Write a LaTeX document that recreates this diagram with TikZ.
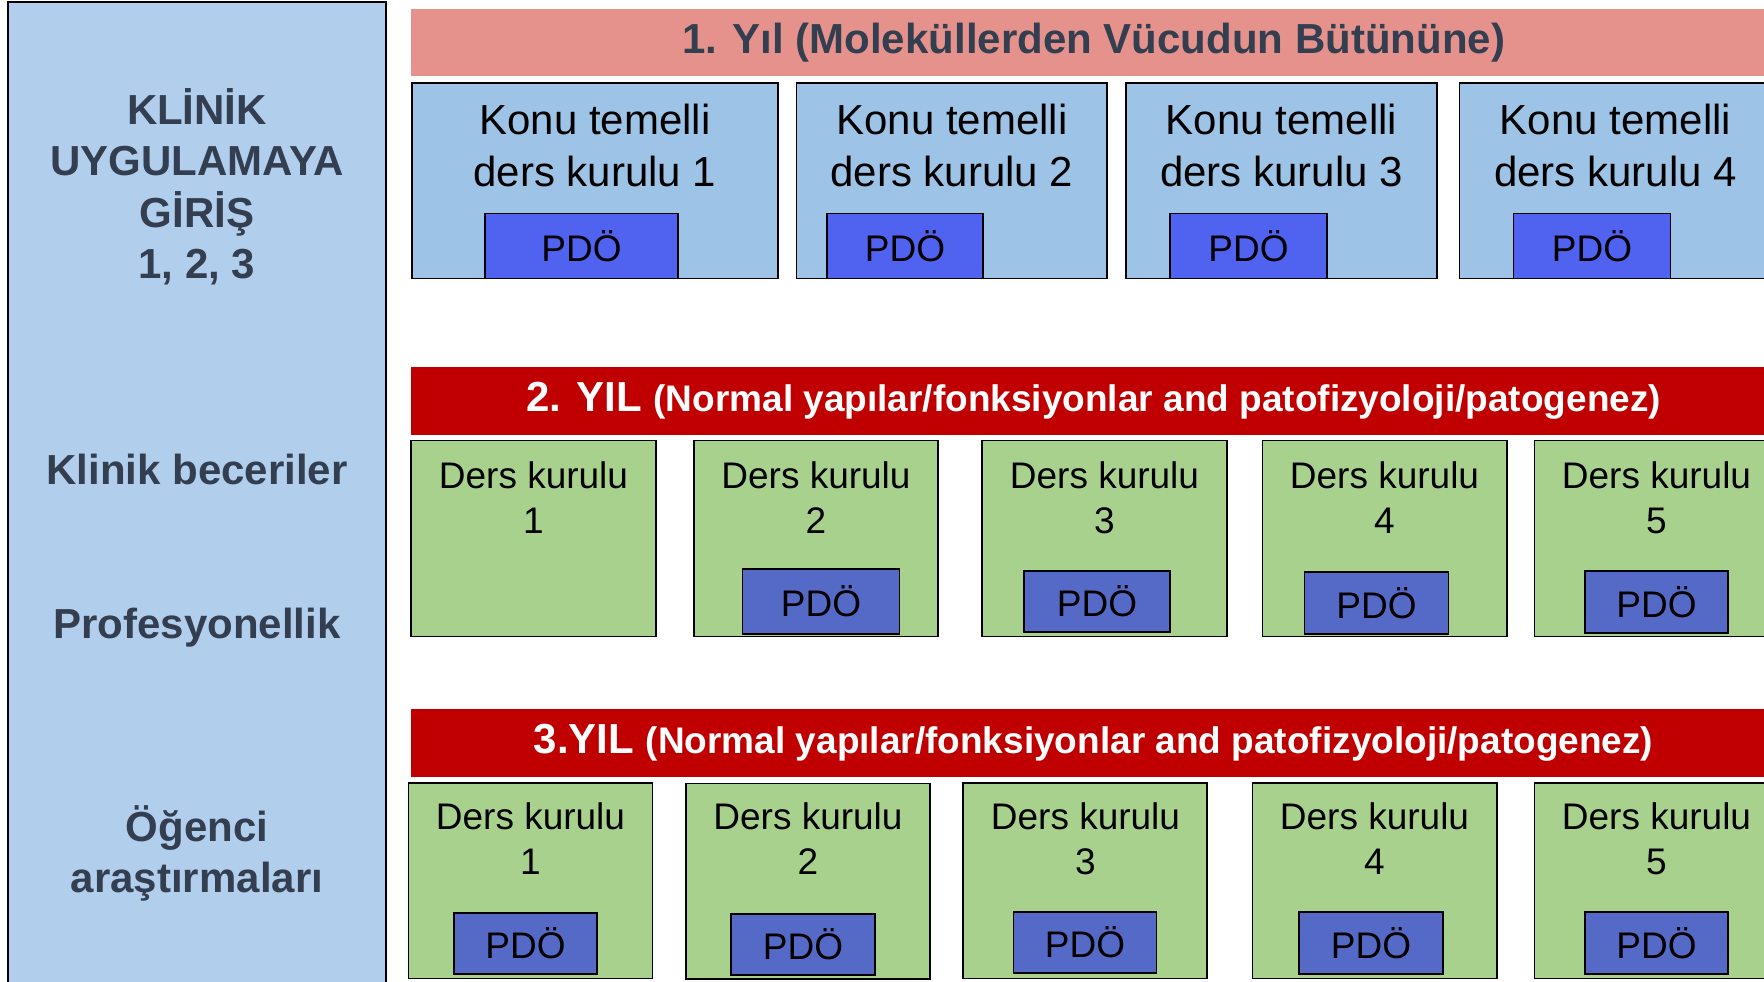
\documentclass[tikz,border=0pt]{standalone}
\usepackage{fontspec}
\setmainfont{Liberation Sans}
\definecolor{panelblue}{HTML}{B1CFEC}
\definecolor{konublue}{HTML}{9DC3E6}
\definecolor{pdobright}{HTML}{4F62F0}
\definecolor{pdodark}{HTML}{5569C6}
\definecolor{dersgreen}{HTML}{A9D18E}
\definecolor{barred}{HTML}{C00000}
\definecolor{barpink}{HTML}{E4928B}
\definecolor{slate}{HTML}{333F50}
\tikzset{
  box/.style={draw=black, line width=1.6pt, anchor=north west, inner sep=0pt, outer sep=0pt},
  panel/.style={box, fill=panelblue},
  konubox/.style={box, fill=konublue},
  dersbox/.style={box, fill=dersgreen},
  pdoA/.style={box, fill=pdobright, font=\fontsize{37}{44}\selectfont},
  pdoB/.style={box, fill=pdodark, font=\fontsize{37}{44}\selectfont},
  bar/.style={anchor=north west, inner sep=0pt, outer sep=0pt, minimum width=1365pt, minimum height=67.5pt},
  konutext/.style={align=center, inner sep=0pt, font=\fontsize{42}{52}\selectfont},
  derstext/.style={align=center, inner sep=0pt, font=\fontsize{37}{45}\selectfont},
  lefttext/.style={align=center, inner sep=0pt, text=slate, font=\bfseries\fontsize{42}{51.5}\selectfont},
}
\begin{document}
\begin{tikzpicture}[x=1pt, y=-1pt]
\useasboundingbox (0,0) rectangle (1764,982);
\clip (0,0) rectangle (1764,982);
\fill[white] (0,0) rectangle (1764,982);

% left panel
\node[panel, minimum width=378pt, minimum height=1010pt] (panel) at (8,2) {};
\node[lefttext] (kug) at (197,187) {KLİNİK\\UYGULAMAYA\\GİRİŞ\\1, 2, 3};
\node[lefttext] (kb) at (197,469) {Klinik beceriler};
\node[lefttext] (pr) at (197,627.5) {Profesyonellik};
\node[lefttext] (oa) at (197,853.5) {Öğenci\\araştırmaları};

% year 1
\node[bar, fill=barpink, text=slate, font=\bfseries\fontsize{42}{50}\selectfont] (bar1) at (411,9) {1. Yıl (Moleküllerden Vücudun Bütününe)};
\node[konubox, minimum width=366pt, minimum height=195.5pt] (k1) at (412,83) {};
\node[konubox, minimum width=310.5pt, minimum height=195.5pt] (k2) at (796.5,83) {};
\node[konubox, minimum width=311pt, minimum height=195.5pt] (k3) at (1126,83) {};
\node[konubox, minimum width=312pt, minimum height=195.5pt] (k4) at (1459.5,83) {};
\node[konutext] (k1t) at (595,145) {Konu temelli\\ders kurulu 1};
\node[konutext] (k2t) at (952,145) {Konu temelli\\ders kurulu 2};
\node[konutext] (k3t) at (1281.5,145) {Konu temelli\\ders kurulu 3};
\node[konutext] (k4t) at (1615.5,145) {Konu temelli\\ders kurulu 4};
\node[pdoA, minimum width=193pt, minimum height=65pt] (p11) at (485,213.5) {PDÖ};
\node[pdoA, minimum width=156pt, minimum height=65pt] (p12) at (827,213.5) {PDÖ};
\node[pdoA, minimum width=157pt, minimum height=65pt] (p13) at (1170,213.5) {PDÖ};
\node[pdoA, minimum width=157pt, minimum height=65pt] (p14) at (1513.5,213.5) {PDÖ};

% year 2
\node[bar, fill=barred, text=white, font=\bfseries\fontsize{42}{50}\selectfont] (bar2) at (411,367) {2. YIL {\fontsize{37}{44}\selectfont(Normal yapılar/fonksiyonlar and patofizyoloji/patogenez)}};
\node[dersbox, minimum width=245pt, minimum height=196pt] (d21) at (411,440.5) {};
\node[dersbox, minimum width=244pt, minimum height=196pt] (d22) at (694,440.5) {};
\node[dersbox, minimum width=245pt, minimum height=196pt] (d23) at (982,440.5) {};
\node[dersbox, minimum width=244.5pt, minimum height=196pt] (d24) at (1262.5,440.5) {};
\node[dersbox, minimum width=245pt, minimum height=196pt] (d25) at (1534.5,440.5) {};
\node[derstext] (d21t) at (533.5,497.5) {Ders kurulu\\1};
\node[derstext] (d22t) at (816,497.5) {Ders kurulu\\2};
\node[derstext] (d23t) at (1104.5,497.5) {Ders kurulu\\3};
\node[derstext] (d24t) at (1384.5,497.5) {Ders kurulu\\4};
\node[derstext] (d25t) at (1656.5,497.5) {Ders kurulu\\5};
\node[pdoB, minimum width=157pt, minimum height=65pt] (p22) at (742.5,569) {PDÖ};
\node[pdoB, minimum width=146pt, minimum height=61pt] (p23) at (1024,571) {PDÖ};
\node[pdoB, minimum width=144pt, minimum height=62pt] (p24) at (1304.5,572) {PDÖ};
\node[pdoB, minimum width=143pt, minimum height=62pt] (p25) at (1585,571) {PDÖ};

% year 3
\node[bar, fill=barred, text=white, font=\bfseries\fontsize{42}{50}\selectfont] (bar3) at (411,709) {3.YIL {\fontsize{37}{44}\selectfont(Normal yapılar/fonksiyonlar and patofizyoloji/patogenez)}};
\node[dersbox, minimum width=244pt, minimum height=195.5pt] (d31) at (408.5,783) {};
\node[dersbox, minimum width=244pt, minimum height=195.5pt] (d32) at (686,783.5) {};
\node[dersbox, minimum width=244pt, minimum height=195.5pt] (d33) at (963,783) {};
\node[dersbox, minimum width=244.5pt, minimum height=195.5pt] (d34) at (1252.5,783) {};
\node[dersbox, minimum width=245pt, minimum height=195.5pt] (d35) at (1534.5,783) {};
\node[derstext] (d31t) at (530.5,838.5) {Ders kurulu\\1};
\node[derstext] (d32t) at (808,838.5) {Ders kurulu\\2};
\node[derstext] (d33t) at (1085.5,838.5) {Ders kurulu\\3};
\node[derstext] (d34t) at (1374.5,838.5) {Ders kurulu\\4};
\node[derstext] (d35t) at (1656.5,838.5) {Ders kurulu\\5};
\node[pdoB, minimum width=143pt, minimum height=61pt] (p31) at (454,913) {PDÖ};
\node[pdoB, minimum width=144pt, minimum height=61pt] (p32) at (731,914) {PDÖ};
\node[pdoB, minimum width=143pt, minimum height=61pt] (p33) at (1013.5,912) {PDÖ};
\node[pdoB, minimum width=144pt, minimum height=62pt] (p34) at (1299,912) {PDÖ};
\node[pdoB, minimum width=143pt, minimum height=62pt] (p35) at (1585,912) {PDÖ};
\end{tikzpicture}
\end{document}
